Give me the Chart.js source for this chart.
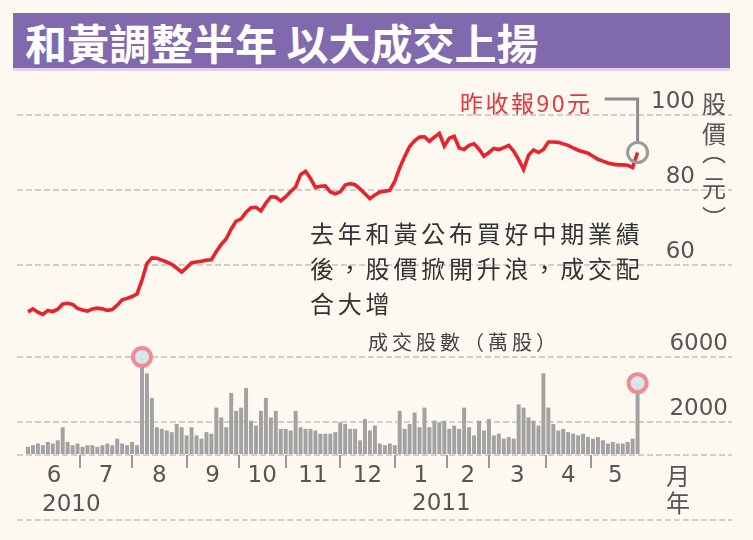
<!DOCTYPE html>
<html>
<head>
<meta charset="utf-8">
<script src="https://cdn.jsdelivr.net/npm/chart.js@4.4.0/dist/chart.umd.min.js"></script>
<style>
html,body{margin:0;padding:0;background:#fdf9f0;}
#wrap{position:relative;width:753px;height:540px;overflow:hidden;background:#fdf9f0;}
#c{position:absolute;left:0;top:0;}
.t{position:absolute;white-space:nowrap;line-height:1;font-family:"Noto Sans CJK TC","Noto Sans CJK SC",sans-serif;transform:translateY(-50%);}
.c{transform:translate(-50%,-50%);}
.num{font-family:"DejaVu Sans",sans-serif;font-size:23px;color:#555;}
#bar{position:absolute;left:13px;top:13px;width:717px;height:55px;background:#8169ae;box-shadow:0 3px 0 #ddd4ea;}
</style>
</head>
<body>
<div id="wrap">
  <div id="bar"></div>
  <div class="t" style="left:25px;top:42px;font-size:42px;font-weight:bold;color:#fff;">和黃調整半年 以大成交上揚</div>
  <canvas id="c" width="753" height="540"></canvas>
  <div class="t" style="left:460px;top:102px;font-size:23px;color:#e8343c;letter-spacing:2.5px;">昨收報90元</div>
  <div class="t c" style="left:714px;top:103px;font-size:24px;color:#555;">股</div>
  <div class="t c" style="left:714px;top:133px;font-size:24px;color:#555;">價</div>
  <div class="t c" style="left:714px;top:151px;font-size:24px;color:#555;">︵</div>
  <div class="t c" style="left:714px;top:187px;font-size:24px;color:#555;">元</div>
  <div class="t c" style="left:714px;top:217px;font-size:24px;color:#555;">︶</div>
  <div class="t" style="left:310px;top:233px;font-size:24px;color:#333;letter-spacing:3.8px;">去年和黃公布買好中期業績</div>
  <div class="t" style="left:310px;top:268px;font-size:24px;color:#333;letter-spacing:3.8px;">後，股價掀開升浪，成交配</div>
  <div class="t" style="left:310px;top:303px;font-size:24px;color:#333;letter-spacing:3.8px;">合大增</div>
  <div class="t" style="left:368px;top:342px;font-size:20px;color:#444;letter-spacing:4px;">成交股數（萬股）</div>
  <div class="t num" style="left:42px;top:503px;">2010</div>
  <div class="t num" style="left:412px;top:502px;">2011</div>
  <div class="t c" style="left:678px;top:475px;font-size:24px;color:#555;">月</div>
  <div class="t c" style="left:678px;top:502px;font-size:24px;color:#555;">年</div>
</div>
<script>
// ---- data ----
const monthLabels = ['6','7','8','9','10','11','12','1','2','3','4','5'];
// trading-day index at which each month starts (Jun 2010 .. May 2011, plus end)
const monthStartDays = [0,21,42,64,85,104,126,148,169,186,209,227,247];
const priceTicks = [60,80,100];
const volumeTicks = [0,2000,6000];
const volumeTickLabels = [2000,6000];
const DAY_STEP = 2; // one value every 2 trading days

// share price (HK$)
const price = [
  47.5,48.3,47.4,46.8,47.9,47.6,48.2,49.6,49.8,49.5,
  48.4,48.0,47.7,48.3,48.5,48.3,47.9,48.1,49.3,50.7,
  51.1,51.6,52.3,56.0,60.4,61.9,61.8,61.3,60.8,60.2,
  59.2,58.1,59.3,60.6,60.8,61.0,61.3,61.4,63.6,65.5,
  67.0,69.6,71.7,72.3,74.1,75.3,75.4,74.4,76.5,78.2,
  78.1,77.1,78.2,79.6,80.8,84.1,85.0,83.1,80.7,81.0,
  81.1,79.5,79.0,79.5,81.3,81.7,81.4,80.3,79.0,77.7,
  78.7,79.5,79.7,79.9,82.3,85.9,88.9,91.6,93.1,94.1,
  94.2,93.0,94.1,95.1,91.7,93.8,94.3,91.2,90.8,91.9,
  92.3,90.9,89.0,90.0,91.1,90.8,91.3,91.9,90.4,88.1,
  85.5,89.3,90.7,90.0,90.8,92.8,92.8,92.7,92.3,91.9,
  91.2,90.6,90.2,89.8,89.0,88.2,87.7,87.2,86.9,86.7,
  86.7,86.6,86.0,90.0
];
// turnover (10k shares)
const volume = [
  500,600,700,600,800,700,900,1700,800,600,
  700,500,600,600,500,600,700,600,1000,700,
  600,800,600,6000,5000,3500,1700,1600,1500,1400,
  1900,1700,1200,1700,1200,1000,1400,1300,2900,2300,
  1700,3800,2700,2900,4100,2100,1800,2700,3500,2300,
  2700,1600,1600,1500,2700,1700,1600,1600,1500,1300,
  1300,1300,1400,2000,1900,1600,1600,900,2200,1500,
  1800,700,600,700,600,2700,1600,1900,2600,1700,
  2900,1700,2100,2000,2100,1600,1800,1600,2900,1700,
  1200,2100,1500,2200,1200,1300,1000,1100,1000,3100,
  2900,2300,2100,1800,5000,2900,1900,1500,1600,1400,
  1300,1200,1300,1100,1000,1100,900,700,800,700,
  700,800,1000,4400
];
const markedVolume = [23,123];

// ---- build ----
const pricePts = price.map((v,i)=>({x:i*DAY_STEP, y:v}));
const volPts = volume.map((v,i)=>({x:i*DAY_STEP, y:v}));
const last = pricePts.length-1;
const mids = monthLabels.map((_,i)=>(monthStartDays[i]+monthStartDays[i+1])/2);

const overlay = {
  id:'overlay',
  afterDatasetsDraw(chart){
    const {ctx, chartArea:a, scales} = chart;
    ctx.save();
    ctx.strokeStyle='#9a9a9a'; ctx.lineWidth=2;
    monthStartDays.slice(1,-1).forEach(d=>{
      const x=Math.round(scales.x.getPixelForValue(d));
      ctx.beginPath(); ctx.moveTo(x,a.bottom); ctx.lineTo(x,a.bottom+13); ctx.stroke();
    });
    ctx.setLineDash([6,3]); ctx.strokeStyle='#d0d0d0'; ctx.lineWidth=2;
    ctx.beginPath(); ctx.moveTo(a.left,a.bottom+65); ctx.lineTo(a.right,a.bottom+65); ctx.stroke();
    ctx.setLineDash([]);
    ctx.font='23px "DejaVu Sans"'; ctx.fillStyle='#555'; ctx.textAlign='right'; ctx.textBaseline='middle';
    priceTicks.forEach(v=>ctx.fillText(String(v), a.right-37, scales.yp.getPixelForValue(v)-13));
    volumeTickLabels.forEach(v=>ctx.fillText(String(v), a.right-4, scales.yv.getPixelForValue(v)-13));
    const lp=pricePts[last];
    const px=scales.x.getPixelForValue(lp.x), py=scales.yp.getPixelForValue(lp.y);
    ctx.strokeStyle='#8c8c8c'; ctx.lineWidth=3;
    ctx.beginPath(); ctx.moveTo(px-33,99); ctx.lineTo(px,99); ctx.lineTo(px,py-11); ctx.stroke();
    ctx.restore();
  }
};

new Chart(document.getElementById('c'), {
  data:{datasets:[
    {type:'line', data:pricePts, yAxisID:'yp', borderColor:'#e8232d', borderWidth:3.6, pointRadius:0, tension:0, order:2},
    {type:'bar', data:volPts, yAxisID:'yv', backgroundColor:'#a2a2a2', barPercentage:1, categoryPercentage:0.8, order:3},
    {type:'scatter', data:[pricePts[last]], yAxisID:'yp', pointRadius:10, borderColor:'#9a9a9a', borderWidth:3, backgroundColor:'rgba(0,0,0,0)', order:1},
    {type:'scatter', data:markedVolume.map(i=>volPts[i]), yAxisID:'yv', pointRadius:9, borderColor:'#f08a94', borderWidth:4, backgroundColor:'rgba(214,230,236,0.95)', order:1}
  ]},
  options:{
    responsive:false, animation:false,
    layout:{padding:{left:17,right:21,top:85,bottom:45}},
    plugins:{legend:{display:false}, tooltip:{enabled:false}},
    scales:{
      x:{type:'linear', min:-4.44, max:284.1, offset:false,
        grid:{display:false, drawTicks:false}, border:{display:false},
        afterBuildTicks:s=>{s.ticks=mids.map(v=>({value:v}));},
        afterFit:s=>{s.height=40;},
        ticks:{autoSkip:false, maxRotation:0, padding:7, color:'#555', font:{family:'DejaVu Sans', size:23},
          callback:(v,i)=>monthLabels[i]}},
      yp:{type:'linear', position:'right', min:9.3333, max:108,
        afterBuildTicks:s=>{s.ticks=priceTicks.map(v=>({value:v}));},
        afterFit:s=>{s.width=0;},
        ticks:{display:false}, grid:{color:'#cfcfcf', lineWidth:2, drawTicks:false},
        border:{display:false, dash:[6,3]}},
      yv:{type:'linear', position:'right', min:0, max:22653,
        afterBuildTicks:s=>{s.ticks=volumeTicks.map(v=>({value:v}));},
        afterFit:s=>{s.width=0;},
        ticks:{display:false}, grid:{color:'#cfcfcf', lineWidth:2, drawTicks:false},
        border:{display:false, dash:[6,3]}}
    }
  },
  plugins:[overlay]
});
</script>
</body>
</html>
